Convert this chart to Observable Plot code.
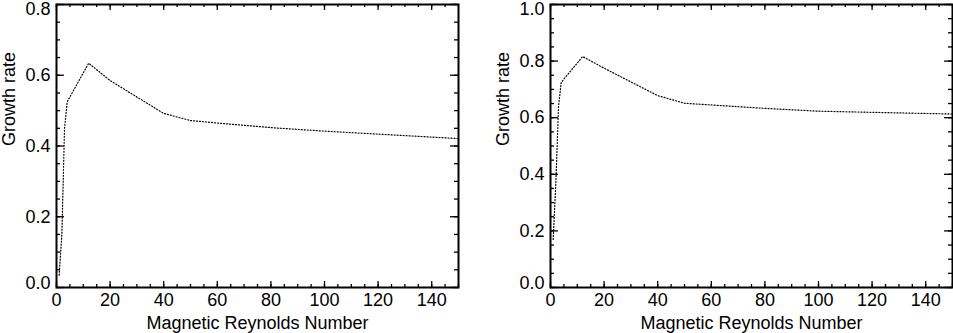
<!DOCTYPE html>
<html><head><meta charset="utf-8">
<script src="https://cdn.jsdelivr.net/npm/d3@7"></script>
<script src="https://cdn.jsdelivr.net/npm/@observablehq/plot@0.6"></script>
<style>
body{margin:0;background:#fff;}
#wrap{display:flex;width:953px;height:333px;overflow:hidden;}
#wrap svg{overflow:visible;flex:none;}
</style></head><body><div id="wrap"></div>
<script>
// Magnetic Reynolds number (x) and growth rates (y) for both panels
const reynolds = [1, 2, 3, 4, 12, 20, 40, 50, 60, 80, 100, 150];
const growthLeft = [0.035, 0.15, 0.45, 0.525, 0.634, 0.585, 0.492, 0.472, 0.465, 0.452, 0.442, 0.421];
const growthRight = [0.17, 0.37, 0.64, 0.725, 0.816, 0.775, 0.678, 0.651, 0.645, 0.633, 0.623, 0.613];
// Tick values
const xMajor = [0, 20, 40, 60, 80, 100, 120, 140];
const xMinor = [0,5,10,15,20,25,30,35,40,45,50,55,60,65,70,75,80,85,90,95,100,105,110,115,120,125,130,135,140,145,150];
const yMajorLeft = [0, 0.2, 0.4, 0.6, 0.8];
const yMajorRight = [0, 0.2, 0.4, 0.6, 0.8, 1.0];
const yMinorLeft = [0,0.05,0.1,0.15,0.2,0.25,0.3,0.35,0.4,0.45,0.5,0.55,0.6,0.65,0.7,0.75,0.8];
const yMinorRight = [0,0.05,0.1,0.15,0.2,0.25,0.3,0.35,0.4,0.45,0.5,0.55,0.6,0.65,0.7,0.75,0.8,0.85,0.9,0.95,1.0];
const xTitle = "Magnetic Reynolds Number";
const yTitle = "Growth rate";

const FONT = "'Liberation Sans', Arial, Helvetica, sans-serif";
const FS = 18;
const TOP = 4, BOTTOM = 287, HEIGHT = 333;

function panel(values, yMax, yMajor, yMinor, width, ml, mr) {
  const H = BOTTOM - TOP, W = width - ml - mr;
  const data = reynolds.map((x, i) => ({x, y: values[i]}));
  const fmt = d3.format(".1f");
  const tk = {stroke: "#000", strokeWidth: 1.3};
  const ya = {tickSize: 0, tickPadding: 6, tickFormat: fmt, label: null, fontSize: FS};
  return Plot.plot({
    width, height: HEIGHT,
    marginLeft: ml, marginRight: mr, marginTop: TOP, marginBottom: HEIGHT - BOTTOM,
    style: {fontFamily: FONT, fontSize: FS + "px", color: "#000", background: "#fff"},
    x: {domain: [0, 150]},
    y: {domain: [0, yMax]},
    marks: [
      Plot.ruleX(xMinor, {...tk, insetTop: H - 3}),
      Plot.ruleX(xMajor, {...tk, insetTop: H - 6}),
      Plot.ruleX(xMinor, {...tk, insetBottom: H - 3}),
      Plot.ruleX(xMajor, {...tk, insetBottom: H - 6}),
      Plot.ruleY(yMinor, {...tk, insetRight: W - 4}),
      Plot.ruleY(yMajor, {...tk, insetRight: W - 8}),
      Plot.ruleY(yMinor, {...tk, insetLeft: W - 4}),
      Plot.ruleY(yMajor, {...tk, insetLeft: W - 8}),
      Plot.frame({stroke: "#000", strokeWidth: 2}),
      Plot.line(data, {x: "x", y: "y", stroke: "#000", strokeWidth: 1.2, strokeDasharray: "1,2"}),
      Plot.axisX(xMajor, {tickSize: 0, tickPadding: 6, tickFormat: d => String(d), label: null, fontSize: FS}),
      Plot.axisY(yMajor.slice(1, -1), ya),
      Plot.axisY(yMajor.slice(0, 1), {...ya, dy: -4.5}),
      Plot.axisY(yMajor.slice(-1), {...ya, dy: 4.5}),
      Plot.text([xTitle], {frameAnchor: "bottom", dy: 36, lineAnchor: "middle", fontSize: FS, fill: "#000"}),
      Plot.text([yTitle], {frameAnchor: "left", dx: -47.7, rotate: -90, fontSize: FS, fill: "#000"})
    ]
  });
}

const wrap = document.getElementById("wrap");
wrap.append(panel(growthLeft, 0.8, yMajorLeft, yMinorLeft, 476, 56, 18));
wrap.append(panel(growthRight, 1.0, yMajorRight, yMinorRight, 477, 74, 1));
</script></body></html>
